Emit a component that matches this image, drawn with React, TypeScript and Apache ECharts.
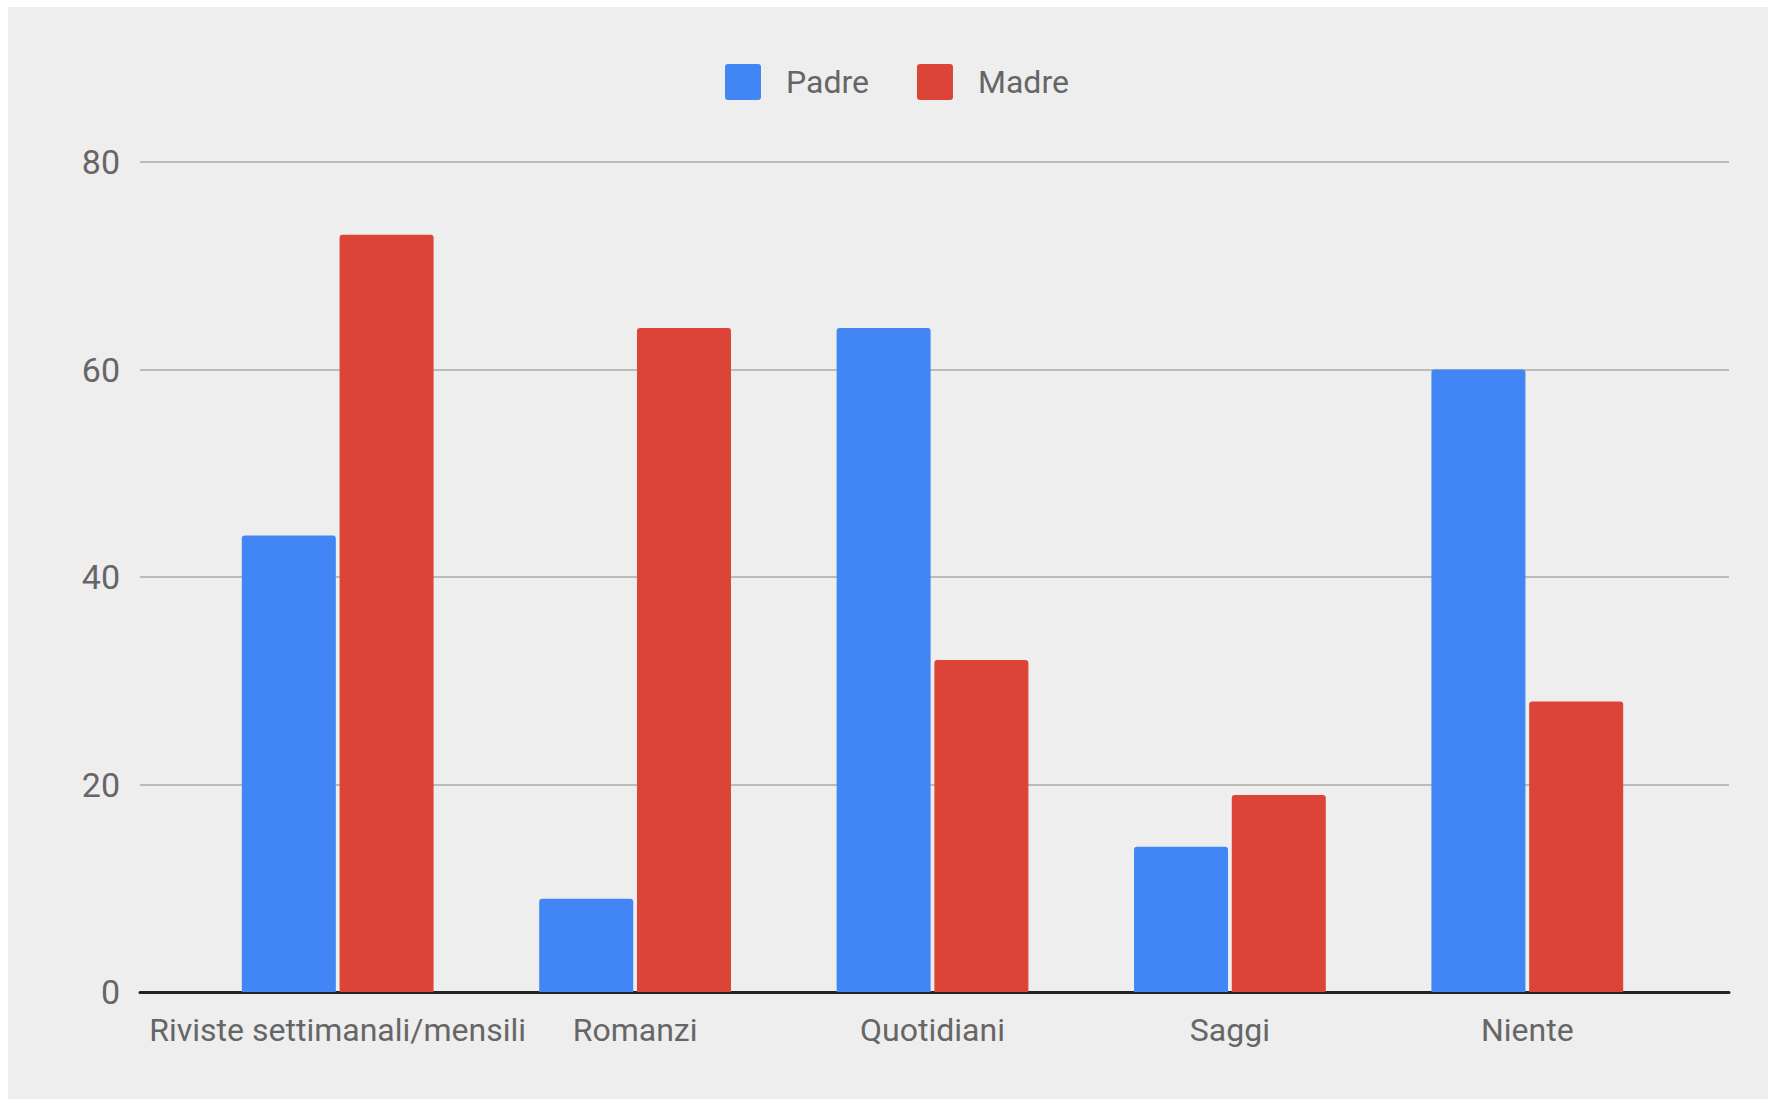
import React, { useEffect, useRef } from "react";
import * as echarts from "echarts";

const categories = ["Riviste settimanali/mensili", "Romanzi", "Quotidiani", "Saggi", "Niente"];
const padreValues = [44, 9, 64, 14, 60];
const madreValues = [73, 64, 32, 19, 28];
const yTicks = [0, 20, 40, 60, 80];

const FONT = "Roboto, 'Noto Sans', sans-serif";
const TEXT = "#666666";
const ICON = "path://M3,0 L33,0 Q36,0 36,3 L36,33 Q36,36 33,36 L3,36 Q0,36 0,33 L0,3 Q0,0 3,0 Z";

export default function App() {
  const ref = useRef<HTMLDivElement>(null);
  useEffect(() => {
    if (!ref.current) return;
    const chart = echarts.init(ref.current, undefined, { renderer: "svg" });
    const yMax = yTicks[yTicks.length - 1];
    const yStep = yTicks[1] - yTicks[0];
    chart.setOption({
      animation: false,
      backgroundColor: "#eeeeee",
      textStyle: { fontFamily: FONT },
      legend: {
        left: 712,
        top: 52,
        itemWidth: 36,
        itemHeight: 36,
        itemGap: 48,
        icon: ICON,
        textStyle: { fontSize: 32, color: TEXT, fontFamily: FONT, padding: [0, 0, 0, 20] },
        data: ["Padre", "Madre"],
      },
      grid: [
        { left: 132, right: 39, top: 155, bottom: 107 },
        { left: 181, right: 92, top: 155, bottom: 107 },
      ],
      xAxis: [
        {
          gridIndex: 0,
          type: "value",
          min: 0,
          max: 1,
          axisLine: { show: true, lineStyle: { color: "#222222", width: 3 } },
          axisTick: { show: false },
          axisLabel: { show: false },
          splitLine: { show: false },
        },
        {
          gridIndex: 1,
          type: "category",
          data: categories,
          axisLine: { show: false },
          axisTick: { show: false },
          axisLabel: { fontSize: 32, color: TEXT, fontFamily: FONT, margin: 22, interval: 0 },
          splitLine: { show: false },
        },
      ],
      yAxis: [
        {
          gridIndex: 0,
          type: "value",
          min: 0,
          max: yMax,
          interval: yStep,
          axisLine: { show: false },
          axisTick: { show: false },
          axisLabel: { fontSize: 34, color: TEXT, fontFamily: FONT, margin: 20 },
          splitLine: { show: true, lineStyle: { color: "#bbbbbb", width: 2 } },
        },
        {
          gridIndex: 1,
          type: "value",
          min: 0,
          max: yMax,
          interval: yStep,
          show: false,
          splitLine: { show: false },
        },
      ],
      series: [
        {
          name: "Padre",
          type: "bar",
          xAxisIndex: 1,
          yAxisIndex: 1,
          data: padreValues,
          barWidth: 94,
          barGap: "4%",
          itemStyle: { color: "#4285f4", borderRadius: [3, 3, 0, 0] },
          z: 3,
        },
        {
          name: "Madre",
          type: "bar",
          xAxisIndex: 1,
          yAxisIndex: 1,
          data: madreValues,
          barWidth: 94,
          barGap: "4%",
          itemStyle: { color: "#db4437", borderRadius: [3, 3, 0, 0] },
          z: 3,
        },
      ],
    });
    return () => chart.dispose();
  }, []);
  return (
    <div
      ref={ref}
      style={{ position: "fixed", left: 8, top: 7, width: 1760, height: 1092 }}
    />
  );
}
